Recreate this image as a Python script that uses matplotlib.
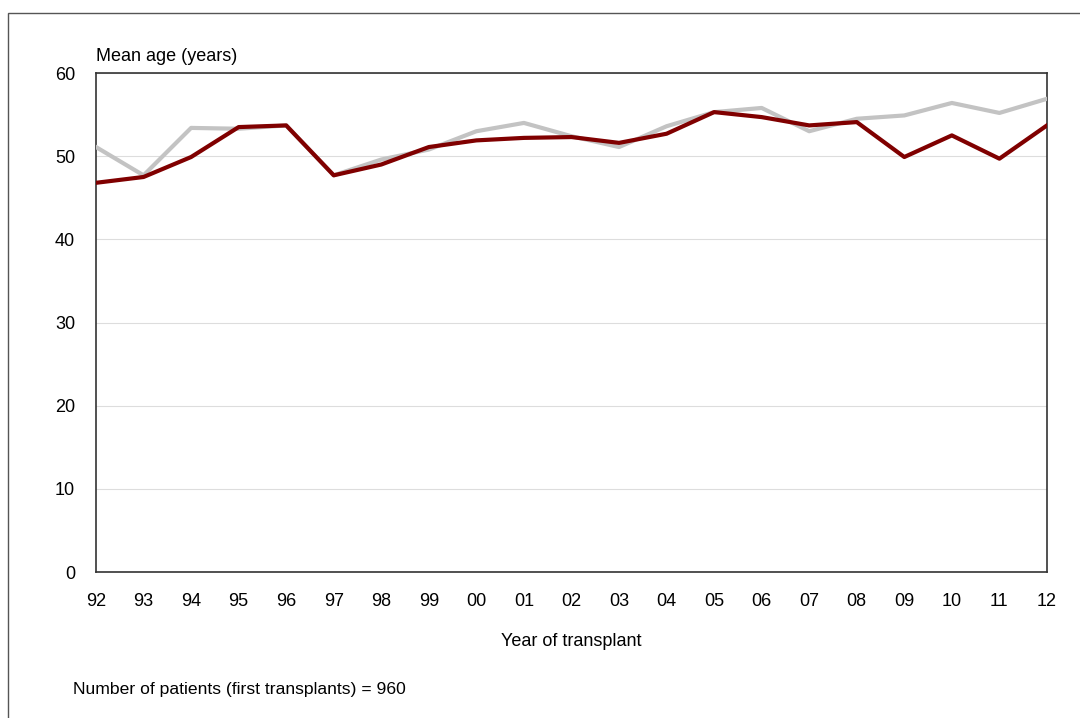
import matplotlib
matplotlib.use("Agg")
from matplotlib import pyplot as plt
from matplotlib.patches import Rectangle

# --- Data ---
years = ["92", "93", "94", "95", "96", "97", "98", "99", "00", "01", "02",
         "03", "04", "05", "06", "07", "08", "09", "10", "11", "12"]
grey_series = [51.1, 47.7, 53.4, 53.3, 53.7, 47.7, 49.6, 50.8, 53.0, 54.0, 52.4,
               51.1, 53.6, 55.3, 55.8, 53.0, 54.5, 54.9, 56.4, 55.2, 56.9]
red_series = [46.8, 47.5, 49.9, 53.5, 53.7, 47.7, 49.0, 51.1, 51.9, 52.2, 52.3,
              51.6, 52.7, 55.3, 54.7, 53.7, 54.1, 49.9, 52.5, 49.7, 53.7]
y_ticks = [0, 10, 20, 30, 40, 50, 60]

plt.rcParams["font.family"] = ["Liberation Sans Narrow", "Liberation Sans", "DejaVu Sans"]

fig = plt.figure(figsize=(10.8, 7.18), dpi=100)
ax = fig.add_axes([0.0889, 0.2033, 0.8805, 0.695])

# outer frame of the chart area
fig.patches.append(Rectangle((0.0074, -0.1), 1.2, 1.0819, transform=fig.transFigure,
                             fill=False, edgecolor="#555555", linewidth=1.0))

x = list(range(len(years)))
ax.plot(x, grey_series, color="#c3c3c3", linewidth=3.0, zorder=3)
ax.plot(x, red_series, color="#800000", linewidth=3.0, zorder=4)

ax.set_xlim(0, len(years) - 1)
ax.set_ylim(0, 60)
ax.set_xticks(x)
ax.set_xticklabels(years)
ax.set_yticks(y_ticks)
ax.tick_params(axis="both", length=0, labelsize=13)
ax.tick_params(axis="x", pad=15)
ax.tick_params(axis="y", pad=15)

ax.grid(axis="y", color="#dddddd", linewidth=0.8)
ax.set_axisbelow(True)
for side in ["left", "right", "top", "bottom"]:
    ax.spines[side].set_color("#333333")
    ax.spines[side].set_linewidth(1.2)

ax.set_xlabel("Year of transplant", fontsize=13, labelpad=17)
fig.text(0.0889, 0.91, "Mean age (years)", fontsize=13, ha="left", va="bottom")
fig.text(0.0676, 0.039, "Number of patients (first transplants) = 960", fontsize=12.6,
         ha="left", va="center")

fig.savefig("out.png", dpi=100)
